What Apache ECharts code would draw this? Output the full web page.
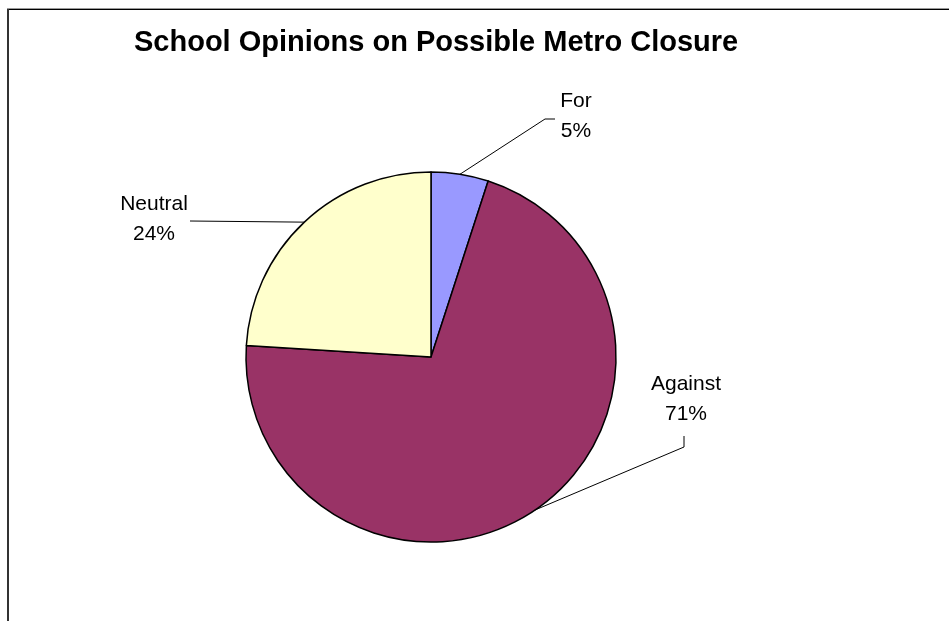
<!DOCTYPE html>
<html>
<head>
<meta charset="utf-8">
<title>School Opinions on Possible Metro Closure</title>
<script src="https://cdn.jsdelivr.net/npm/echarts@6/dist/echarts.min.js"></script>
<style>
  html, body { margin: 0; padding: 0; background: #fff; }
  #chart { width: 949px; height: 621px; }
</style>
</head>
<body>
<div id="chart"></div>
<script>
// Survey answers
const categories = ['For', 'Against', 'Neutral'];
const shares = [5, 71, 24];
const sliceColors = ['#9999FF', '#993366', '#FFFFCC'];

// Where each outside label sits, and the bend of its leader line
const labelSpots = {
  For:     { x: 576, y: 116, bend: [[545, 119], [555, 119]] },
  Against: { x: 686, y: 399, bend: [[684, 447], [684, 436]] },
  Neutral: { x: 154, y: 219, bend: [[190, 221], [190, 221]] }
};

const font = '"Liberation Sans", Arial, Helvetica, sans-serif';

const chart = echarts.init(document.getElementById('chart'), null, { renderer: 'canvas' });

chart.setOption({
  animation: false,
  backgroundColor: '#ffffff',
  title: {
    text: 'School Opinions on Possible Metro Closure',
    left: 134,
    top: 28,
    padding: 0,
    textStyle: {
      fontFamily: font,
      fontSize: 29,
      fontWeight: 'bold',
      color: '#000',
      lineHeight: 29
    }
  },
  graphic: [
    { type: 'line', shape: { x1: 7, y1: 8.5, x2: 949, y2: 8.5 }, style: { stroke: '#9a9a9a', lineWidth: 1 } },
    { type: 'line', shape: { x1: 7, y1: 9.5, x2: 949, y2: 9.5 }, style: { stroke: '#000', lineWidth: 1 } },
    { type: 'line', shape: { x1: 8, y1: 9, x2: 8, y2: 621 }, style: { stroke: '#333', lineWidth: 2 } }
  ],
  series: [{
    type: 'pie',
    center: [431, 357],
    radius: 185,
    startAngle: 90,
    clockwise: true,
    silent: true,
    data: categories.map((name, i) => ({
      name: name,
      value: shares[i],
      itemStyle: { color: sliceColors[i] }
    })),
    itemStyle: { borderColor: '#000', borderWidth: 1.5 },
    label: {
      show: true,
      position: 'outside',
      formatter: '{b}\n{d}%',
      fontFamily: font,
      fontSize: 21,
      lineHeight: 30,
      color: '#000',
      align: 'center'
    },
    labelLine: {
      show: true,
      length: 20,
      length2: 10,
      lineStyle: { color: '#000', width: 1 }
    },
    labelLayout: function (params) {
      const name = categories[params.dataIndex];
      const spot = labelSpots[name];
      const start = params.labelLinePoints ? params.labelLinePoints[0] : spot.bend[0];
      return {
        x: spot.x,
        y: spot.y,
        align: 'center',
        verticalAlign: 'middle',
        labelLinePoints: [start, spot.bend[0], spot.bend[1]]
      };
    }
  }]
});
</script>
</body>
</html>
